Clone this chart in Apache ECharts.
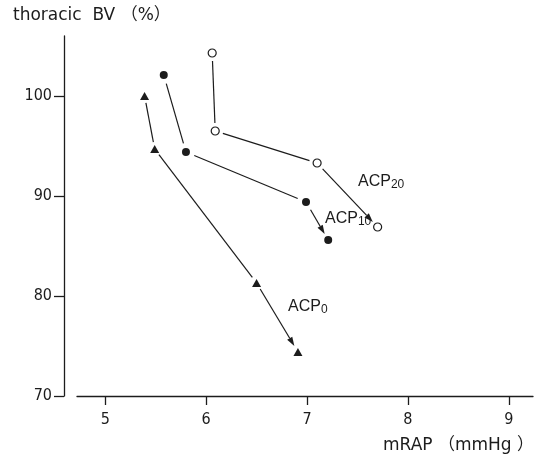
<!DOCTYPE html>
<html>
<head>
<meta charset="utf-8">
<script src="https://cdn.jsdelivr.net/npm/echarts@6/dist/echarts.min.js"></script>
<style>
  html, body { margin: 0; padding: 0; background: #fff; }
  #main { width: 540px; height: 457px; }
</style>
</head>
<body>
<div id="main"></div>
<script>
// mRAP (mmHg) vs thoracic BV (%), three ACP levels
const acp0X = [5.39, 5.49, 6.5, 6.91];
const acp0Y = [100.0, 94.7, 81.3, 74.4];
const acp10X = [5.58, 5.80, 6.99, 7.21];
const acp10Y = [102.1, 94.4, 89.4, 85.6];
const acp20X = [6.06, 6.09, 7.10, 7.70];
const acp20Y = [104.3, 96.5, 93.3, 86.9];

const xTicks = [5, 6, 7, 8, 9];
const yTicks = [70, 80, 90, 100];

const ink = "#1c1c1c";
const numFont = '"Liberation Sans Narrow", "DejaVu Sans Condensed", "Liberation Sans", sans-serif';
const txtFont = '"Liberation Sans", "Noto Sans CJK JP", sans-serif';
const nameFont = '"DejaVu Sans", "Noto Sans CJK JP", sans-serif';

function pts(xs, ys) {
  return xs.map((x, i) => [x, ys[i]]);
}

// segments between consecutive points, short gap at markers, arrow on last one
function segSeries(xs, ys, gap) {
  const n = xs.length;
  return {
    type: "custom",
    data: pts(xs, ys),
    encode: { x: 0, y: 1 },
    clip: false,
    silent: true,
    z: 2,
    renderItem: function (params, api) {
      const i = params.dataIndexInside;
      if (i === 0) return null;
      const a = api.coord([api.value(0, i - 1), api.value(1, i - 1)]);
      const b = api.coord([api.value(0, i), api.value(1, i)]);
      const dx = b[0] - a[0], dy = b[1] - a[1];
      const len = Math.sqrt(dx * dx + dy * dy);
      const ux = dx / len, uy = dy / len;
      const s = [a[0] + ux * gap, a[1] + uy * gap];
      const e = [b[0] - ux * gap, b[1] - uy * gap];
      const children = [];
      if (i === n - 1) {
        const tip = [b[0] - ux * 7, b[1] - uy * 7];
        const base = [tip[0] - ux * 9, tip[1] - uy * 9];
        const px = -uy, py = ux;
        children.push({
          type: "line",
          shape: { x1: s[0], y1: s[1], x2: base[0], y2: base[1] },
          style: { stroke: ink, lineWidth: 1.2 }
        });
        children.push({
          type: "polygon",
          shape: { points: [tip, [base[0] + px * 3, base[1] + py * 3], [base[0] - px * 3, base[1] - py * 3]] },
          style: { fill: ink }
        });
      } else {
        children.push({
          type: "line",
          shape: { x1: s[0], y1: s[1], x2: e[0], y2: e[1] },
          style: { stroke: ink, lineWidth: 1.2 }
        });
      }
      return { type: "group", children: children };
    }
  };
}

function acpLabel(x, y, sub) {
  return {
    type: "text", x: x, y: y,
    style: {
      text: "{m|ACP}{s|" + sub + "}", align: "left", verticalAlign: "middle",
      rich: {
        m: { fontSize: 16, lineHeight: 18, fill: ink, fontFamily: txtFont },
        s: { fontSize: 12, lineHeight: 11, verticalAlign: "bottom", fill: ink, fontFamily: txtFont }
      }
    }
  };
}

const chart = echarts.init(document.getElementById("main"));

const option = {
  backgroundColor: "#fff",
  animation: false,
  grid: { left: 77, right: 7, top: 36, bottom: 61 },
  xAxis: {
    type: "value",
    min: 4.72,
    max: 9.24,
    splitLine: { show: false },
    axisLine: { show: true, onZero: false, lineStyle: { color: ink, width: 1.3 } },
    axisTick: { show: true, length: 9, customValues: xTicks, lineStyle: { color: ink, width: 1.3 } },
    axisLabel: { customValues: xTicks, margin: 16, color: ink, fontSize: 16, fontFamily: numFont }
  },
  yAxis: {
    type: "value",
    min: 70,
    max: 106,
    offset: 13,
    splitLine: { show: false },
    axisLine: { show: true, lineStyle: { color: ink, width: 1.3 } },
    axisTick: { show: true, length: 10, customValues: yTicks, lineStyle: { color: ink, width: 1.3 } },
    axisLabel: { customValues: yTicks, margin: 12, color: ink, fontSize: 16, fontFamily: numFont }
  },
  graphic: [
    {
      type: "text", x: 13, y: 16,
      style: { text: "thoracic  BV （%）", fill: ink, font: "17px " + nameFont, align: "left", verticalAlign: "middle" }
    },
    {
      type: "text", x: 383, y: 446,
      style: { text: "mRAP （mmHg ）", fill: ink, font: "17px " + nameFont, align: "left", verticalAlign: "middle" }
    },
    acpLabel(358, 182, "20"),
    acpLabel(325, 219, "10"),
    acpLabel(288, 307, "0")
  ],
  series: [
    segSeries(acp0X, acp0Y, 7),
    segSeries(acp10X, acp10Y, 9),
    segSeries(acp20X, acp20Y, 8),
    {
      name: "ACP0", type: "scatter", data: pts(acp0X, acp0Y),
      symbol: "triangle", symbolSize: [9, 8], z: 3,
      itemStyle: { color: ink, opacity: 1 }
    },
    {
      name: "ACP10", type: "scatter", data: pts(acp10X, acp10Y),
      symbol: "circle", symbolSize: 8, z: 3,
      itemStyle: { color: ink, opacity: 1 }
    },
    {
      name: "ACP20", type: "scatter", data: pts(acp20X, acp20Y),
      symbol: "circle", symbolSize: 8, z: 3,
      itemStyle: { color: "#fff", borderColor: ink, borderWidth: 1.2, opacity: 1 }
    }
  ]
};

chart.setOption(option);
</script>
</body>
</html>
